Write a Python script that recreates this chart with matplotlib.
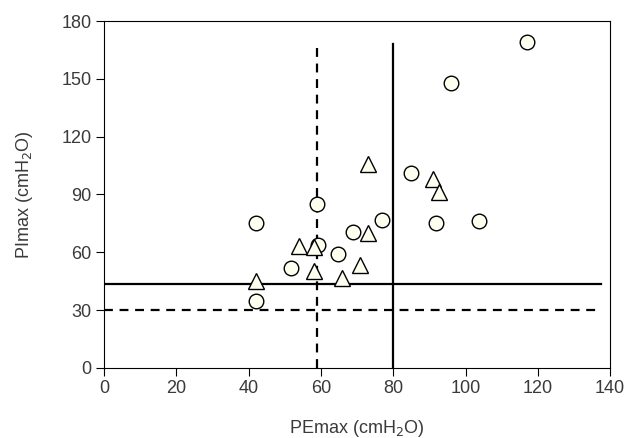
import matplotlib
matplotlib.use('Agg')
from matplotlib import pyplot as plt

# circles
circ_x = [117, 96, 85, 42, 59, 59.3, 51.7, 64.8, 68.9, 76.9, 91.9, 103.7, 42]
circ_y = [169, 148, 101, 75, 85, 64, 52, 59, 70.5, 77, 75, 76, 34.5]
# triangles
tri_x = [73, 90.9, 92.8, 72.9, 54, 58.1, 58.1, 70.9, 65.9, 42]
tri_y = [106, 98, 91.5, 70, 63.5, 62.5, 50.5, 53.4, 46.5, 45.3]

# cut-off lines
h_solid, h_dash = 43.5, 30
v_solid, v_dash = 80, 59
line_top, line_right = 168, 137.5

plt.rcParams['font.family'] = ['Liberation Sans', 'DejaVu Sans']
txt = '#3a3a3a'

fig = plt.figure(figsize=(6.27, 4.38), dpi=100)
ax = fig.add_axes([0.166, 0.160, 0.807, 0.792])

ax.plot([0, line_right], [h_solid, h_solid], color='black', lw=1.6, zorder=2)
ax.plot([0, line_right], [h_dash, h_dash], color='black', lw=1.6,
        dashes=(4, 3), zorder=2)
ax.plot([v_solid, v_solid], [0, line_top], color='black', lw=1.6, zorder=2)
ax.plot([v_dash, v_dash], [0, line_top], color='black', lw=1.6,
        dashes=(4, 3), zorder=2)

ax.plot(circ_x, circ_y, 'o', ms=10.5, mfc='#fffff0', mec='black',
        mew=1.0, ls='None', zorder=3)
ax.plot(tri_x, tri_y, '^', ms=11.5, mfc='#fffff0', mec='black',
        mew=1.0, ls='None', zorder=3)

ax.set_xlim(0, 140)
ax.set_ylim(0, 180)
ax.set_xticks(range(0, 141, 20))
ax.set_yticks(range(0, 181, 30))
ax.tick_params(direction='out', length=6, width=0.8, labelsize=13,
               labelcolor=txt, pad=3)
for sp in ax.spines.values():
    sp.set_linewidth(0.8)

ax.set_xlabel('PEmax (cmH$_2$O)', fontsize=13, color=txt)
ax.set_ylabel('PImax (cmH$_2$O)', fontsize=13, color=txt)
ax.xaxis.set_label_coords(0.5, -0.145)
ax.yaxis.set_label_coords(-0.137, 0.5)

plt.savefig('out.png', dpi=100)
